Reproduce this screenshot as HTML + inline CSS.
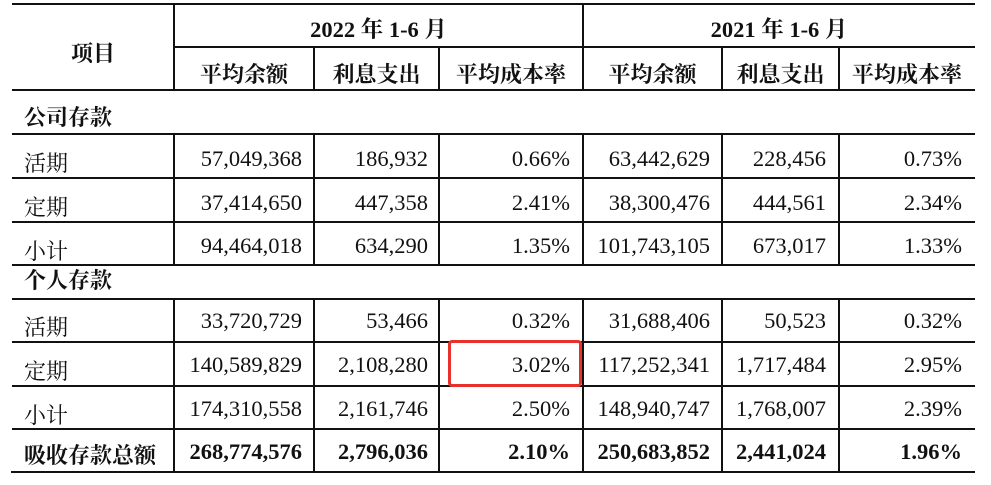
<!DOCTYPE html>
<html><head><meta charset="utf-8"><style>
body{margin:0;width:991px;height:485px;background:#fff;position:relative;overflow:hidden;font-family:"Liberation Serif","Noto Serif CJK SC",serif;color:#111}
.h{position:absolute;height:2px;background:#111}
.v{position:absolute;width:2px;background:#111}
.t{position:absolute;font-size:22.5px;line-height:26px;white-space:nowrap}
.r{text-align:right}
.c{text-align:center}
.b{font-weight:bold}
.cj{font-family:"Noto Serif CJK SC","Noto Sans CJK SC",serif;font-size:22px}
</style></head><body>
<div class="h" style="left:12px;width:963px;top:3px"></div>
<div class="h" style="left:174px;width:801px;top:46px"></div>
<div class="h" style="left:12px;width:963px;top:89px"></div>
<div class="h" style="left:12px;width:963px;top:133px"></div>
<div class="h" style="left:12px;width:963px;top:177px"></div>
<div class="h" style="left:12px;width:963px;top:221px"></div>
<div class="h" style="left:12px;width:963px;top:264px"></div>
<div class="h" style="left:12px;width:963px;top:298px"></div>
<div class="h" style="left:12px;width:963px;top:341px"></div>
<div class="h" style="left:12px;width:963px;top:385px"></div>
<div class="h" style="left:12px;width:963px;top:428px"></div>
<div class="h" style="left:11px;width:964px;top:471px"></div>
<div class="v" style="left:173px;top:3px;height:87px"></div>
<div class="v" style="left:582px;top:3px;height:87px"></div>
<div class="v" style="left:313px;top:46px;height:44px"></div>
<div class="v" style="left:438px;top:46px;height:44px"></div>
<div class="v" style="left:721px;top:46px;height:44px"></div>
<div class="v" style="left:838px;top:46px;height:44px"></div>
<div class="v" style="left:173px;top:133px;height:132px"></div>
<div class="v" style="left:313px;top:133px;height:132px"></div>
<div class="v" style="left:438px;top:133px;height:132px"></div>
<div class="v" style="left:582px;top:133px;height:132px"></div>
<div class="v" style="left:721px;top:133px;height:132px"></div>
<div class="v" style="left:838px;top:133px;height:132px"></div>
<div class="v" style="left:173px;top:298px;height:175px"></div>
<div class="v" style="left:313px;top:298px;height:175px"></div>
<div class="v" style="left:438px;top:298px;height:175px"></div>
<div class="v" style="left:582px;top:298px;height:175px"></div>
<div class="v" style="left:721px;top:298px;height:175px"></div>
<div class="v" style="left:838px;top:298px;height:175px"></div>
<div style="position:absolute;left:448px;top:340px;width:128px;height:41px;border:3px solid #e8312a;border-radius:4px"></div>

<div class="t cj b c" style="left:12px;width:162px;top:40px">项目</div>
<div class="t b c" style="left:174px;width:409px;top:17px">2022 年 1-6 月</div>
<div class="t b c" style="left:583px;width:392px;top:17px">2021 年 1-6 月</div>
<div class="t cj b c" style="left:174px;width:140px;top:61px">平均余额</div>
<div class="t cj b c" style="left:314px;width:125px;top:61px">利息支出</div>
<div class="t cj b c" style="left:439px;width:144px;top:61px">平均成本率</div>
<div class="t cj b c" style="left:583px;width:139px;top:61px">平均余额</div>
<div class="t cj b c" style="left:722px;width:117px;top:61px">利息支出</div>
<div class="t cj b c" style="left:839px;width:136px;top:61px">平均成本率</div>

<div class="t cj b" style="left:24px;top:104px">公司存款</div>
<div class="t cj b" style="left:24px;top:267px">个人存款</div>
<div class="t cj b" style="left:24px;top:442px">吸收存款总额</div>

<div class="t cj" style="left:24px;top:150px">活期</div>
<div class="t cj" style="left:24px;top:194px">定期</div>
<div class="t cj" style="left:24px;top:238px">小计</div>
<div class="t cj" style="left:24px;top:314px">活期</div>
<div class="t cj" style="left:24px;top:358px">定期</div>
<div class="t cj" style="left:24px;top:402px">小计</div>

<div class="t r" style="right:689px;top:146px">57,049,368</div>
<div class="t r" style="right:563px;top:146px">186,932</div>
<div class="t r" style="right:421px;top:146px">0.66%</div>
<div class="t r" style="right:281px;top:146px">63,442,629</div>
<div class="t r" style="right:165px;top:146px">228,456</div>
<div class="t r" style="right:29px;top:146px">0.73%</div>

<div class="t r" style="right:689px;top:190px">37,414,650</div>
<div class="t r" style="right:563px;top:190px">447,358</div>
<div class="t r" style="right:421px;top:190px">2.41%</div>
<div class="t r" style="right:281px;top:190px">38,300,476</div>
<div class="t r" style="right:165px;top:190px">444,561</div>
<div class="t r" style="right:29px;top:190px">2.34%</div>

<div class="t r" style="right:689px;top:233px">94,464,018</div>
<div class="t r" style="right:563px;top:233px">634,290</div>
<div class="t r" style="right:421px;top:233px">1.35%</div>
<div class="t r" style="right:281px;top:233px">101,743,105</div>
<div class="t r" style="right:165px;top:233px">673,017</div>
<div class="t r" style="right:29px;top:233px">1.33%</div>

<div class="t r" style="right:689px;top:308px">33,720,729</div>
<div class="t r" style="right:563px;top:308px">53,466</div>
<div class="t r" style="right:421px;top:308px">0.32%</div>
<div class="t r" style="right:281px;top:308px">31,688,406</div>
<div class="t r" style="right:165px;top:308px">50,523</div>
<div class="t r" style="right:29px;top:308px">0.32%</div>

<div class="t r" style="right:689px;top:352px">140,589,829</div>
<div class="t r" style="right:563px;top:352px">2,108,280</div>
<div class="t r" style="right:421px;top:352px">3.02%</div>
<div class="t r" style="right:281px;top:352px">117,252,341</div>
<div class="t r" style="right:165px;top:352px">1,717,484</div>
<div class="t r" style="right:29px;top:352px">2.95%</div>

<div class="t r" style="right:689px;top:396px">174,310,558</div>
<div class="t r" style="right:563px;top:396px">2,161,746</div>
<div class="t r" style="right:421px;top:396px">2.50%</div>
<div class="t r" style="right:281px;top:396px">148,940,747</div>
<div class="t r" style="right:165px;top:396px">1,768,007</div>
<div class="t r" style="right:29px;top:396px">2.39%</div>

<div class="t r b" style="right:689px;top:439px">268,774,576</div>
<div class="t r b" style="right:563px;top:439px">2,796,036</div>
<div class="t r b" style="right:421px;top:439px">2.10%</div>
<div class="t r b" style="right:281px;top:439px">250,683,852</div>
<div class="t r b" style="right:165px;top:439px">2,441,024</div>
<div class="t r b" style="right:29px;top:439px">1.96%</div>
</body></html>
